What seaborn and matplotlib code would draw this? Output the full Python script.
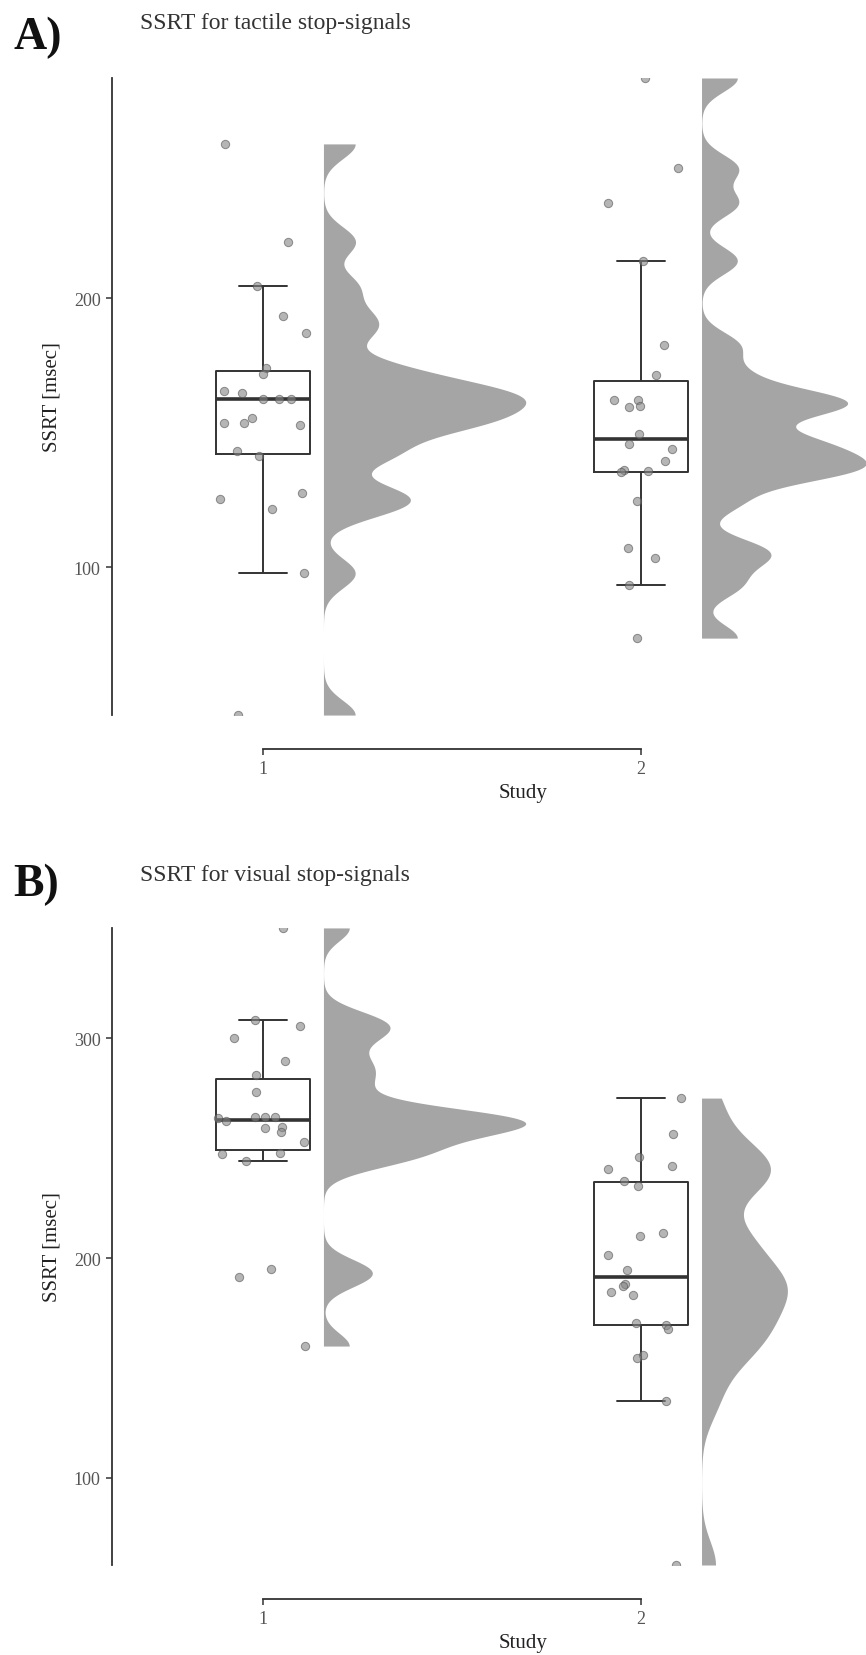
import numpy as np
import pandas as pd
import matplotlib
matplotlib.use('Agg')
import matplotlib.pyplot as plt
from matplotlib.ticker import MultipleLocator
import seaborn as sns

# SSRT [msec] per participant
tactile_s1 = [257.4, 221.1, 204.5, 193.4, 187.0, 174.2, 172.0, 165.7, 164.9, 162.5, 162.5,
              162.4, 155.7, 153.8, 153.8, 152.8, 143.2, 141.4, 127.5, 125.4, 121.6, 97.8, 45.1]
tactile_s2 = [281.9, 248.4, 235.3, 214.0, 182.5, 171.6, 162.3, 162.3, 159.9, 159.5, 149.6,
              145.7, 144.1, 139.6, 136.3, 135.7, 135.3, 124.6, 107.1, 103.3, 93.3, 73.7]
visual_s1 = [350.2, 308.5, 305.7, 300.1, 289.8, 283.4, 275.6, 264.2, 264.0, 264.0, 263.7,
             262.2, 259.8, 259.2, 257.2, 252.7, 247.8, 247.3, 244.0, 195.1, 191.2, 160.0]
visual_s2 = [272.8, 256.6, 246.0, 241.7, 240.5, 235.2, 232.6, 211.4, 210.2, 201.5, 194.7,
             188.3, 187.1, 184.5, 183.3, 170.4, 169.6, 167.7, 155.7, 154.5, 135.0, 60.4]
studies = ['1', '2']

# kernel bandwidths (msec) of the half-densities, per study
bw_tactile = [5.5, 5.1]
bw_visual = [5.9, 10.9]

sns.set_theme(style='ticks')
plt.rcParams['font.family'] = ['Liberation Serif', 'DejaVu Serif']
np.random.seed(7)

LINE = '#333333'
GREY = '#a5a5a5'


def half_density(vals, bw, n=512):
    # gaussian kde trimmed to the data range
    v = np.asarray(vals, dtype=float)
    grid = np.linspace(v.min(), v.max(), n)
    d = np.exp(-0.5 * ((grid[:, None] - v[None, :]) / bw) ** 2).sum(1)
    d = d / (len(v) * bw * np.sqrt(2 * np.pi))
    return grid, d


def raincloud(ax, s1, s2, bws):
    df = pd.DataFrame({'Study': [studies[0]] * len(s1) + [studies[1]] * len(s2),
                       'SSRT': s1 + s2})
    curves = [half_density(s, b) for s, b in zip((s1, s2), bws)]
    top = max(d.max() for _, d in curves)
    for i, (grid, d) in enumerate(curves):
        ax.fill_betweenx(grid, i + 0.16, i + 0.16 + d / top * 0.535, color=GREY, lw=0, zorder=1)
    sns.boxplot(data=df, x='Study', y='SSRT', ax=ax, width=0.25, fill=False, color=LINE,
                linewidth=1.4, showfliers=False, medianprops={'linewidth': 2.6})
    sns.stripplot(data=df, x='Study', y='SSRT', ax=ax, jitter=0.12, size=6, color='#858585',
                  alpha=0.6, edgecolor='#505050', linewidth=0.7, zorder=4)
    ax.set_xlim(-0.4, 1.595)
    ax.set_ylim(df['SSRT'].min(), df['SSRT'].max())
    ax.yaxis.set_major_locator(MultipleLocator(100))
    sns.despine(ax=ax)
    ax.spines['bottom'].set_position(('outward', 24.5))
    ax.spines['bottom'].set_bounds(0, 1)
    for sp in ('left', 'bottom'):
        ax.spines[sp].set_color(LINE)
        ax.spines[sp].set_linewidth(1.3)
    ax.tick_params(colors=LINE, labelcolor='#555555', labelsize=13, length=4, width=1.1, pad=4)
    ax.set_xlabel('Study', fontsize=15, color='#222222')
    ax.xaxis.set_label_coords(0.545, -0.107)
    ax.set_ylabel('SSRT [msec]', fontsize=15, color='#222222')
    ax.yaxis.set_label_coords(-0.067, 0.5)


fig = plt.figure(figsize=(8.66, 16.56), dpi=100)
ax_a = fig.add_axes([0.129, 0.5676, 0.871, 0.3847])
ax_b = fig.add_axes([0.129, 0.05435, 0.871, 0.3847])

raincloud(ax_a, tactile_s1, tactile_s2, bw_tactile)
raincloud(ax_b, visual_s1, visual_s2, bw_visual)

fig.text(13 / 866, 1 - 38 / 1656, 'A)', fontsize=33, fontweight='bold', va='center', color='#111111')
fig.text(140 / 866, 1 - 24 / 1656, 'SSRT for tactile stop-signals', fontsize=17, va='center', color='#333333')
fig.text(13 / 866, 1 - 885 / 1656, 'B)', fontsize=33, fontweight='bold', va='center', color='#111111')
fig.text(140 / 866, 1 - 876 / 1656, 'SSRT for visual stop-signals', fontsize=17, va='center', color='#333333')

fig.savefig('out.png', dpi=100)
